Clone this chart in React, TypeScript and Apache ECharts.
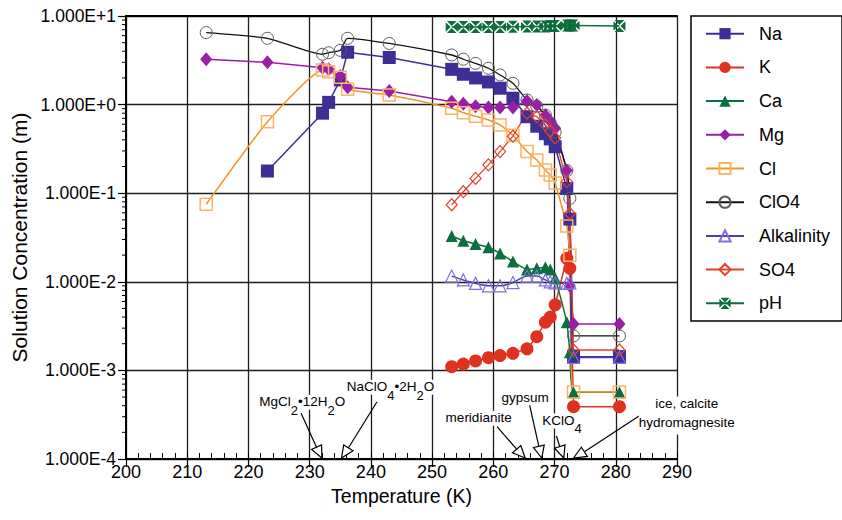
import React, { useEffect, useRef } from "react";
import * as echarts from "echarts";

// ---------- data ----------
const seriesNames = ["Na", "K", "Ca", "Mg", "Cl", "ClO4", "Alkalinity", "SO4", "pH"];

// temperatures (K)
const tempEarly = [213.1, 223.1, 232.1, 233.1, 235.0, 236.2, 243.0];
const tempLate = [253.2, 255.1, 257.1, 259.2, 261.1, 263.2, 265.5, 267.1, 268.5, 269.3, 270.1, 272.0, 272.5, 273.1, 280.6];

// concentrations (m)
const naEarly = [null, 0.178, 0.8, 1.06, 1.9, 3.9, 3.4];
const naLate = [2.5, 2.2, 2.0, 1.8, 1.53, 1.18, 0.73, 0.57, 0.47, 0.41, 0.335, 0.113, 0.051, 0.00143, 0.00143];
const kLate = [0.0011, 0.00118, 0.00128, 0.00139, 0.00147, 0.00156, 0.00175, 0.0024, 0.0035, 0.004, 0.0055, 0.0184, 0.0142, 0.00039, 0.00039];
const caLate = [0.0329, 0.0291, 0.0267, 0.0245, 0.0209, 0.0169, 0.0138, 0.0142, 0.0146, 0.0138, 0.011, 0.0035, 0.0016, 0.000566, 0.000566];
const mgEarly = [3.25, 3.0, 2.6, 2.5, 2.1, 1.57, 1.42];
const mgLate = [1.08, 1.02, 0.96, 0.93, 0.93, 0.93, 1.1, 0.99, 0.76, 0.65, 0.54, 0.18, 0.009, 0.00334, 0.00334];
const clEarly = [0.075, 0.64, 2.45, 2.35, 2.03, 1.49, 1.28];
const clLate = [0.91, 0.81, 0.74, 0.67, 0.59, 0.45, 0.295, 0.237, 0.183, 0.16, 0.13, 0.0426, 0.02, 0.00057, 0.00057];
const clo4Early = [6.5, 5.6, 3.7, 3.85, 4.1, 5.6, 4.9];
const clo4Late = [3.63, 3.25, 2.92, 2.57, 2.16, 1.74, 1.13, 0.96, 0.76, 0.62, 0.49, 0.18, 0.0875, 0.00245, 0.00245];
const alkLate = [0.0116, 0.0105, 0.0096, 0.009, 0.009, 0.0098, 0.0116, 0.0116, 0.0105, 0.01, 0.0097, 0.0096, 0.0097, 0.0014, 0.0014];
const so4Late = [0.074, 0.104, 0.147, 0.209, 0.295, 0.44, 0.8, 0.73, 0.59, 0.5, 0.42, 0.135, 0.059, 0.0017, 0.0017];
const phLate = [7.5, 7.5, 7.5, 7.5, 7.5, 7.55, 7.6, 7.6, 7.6, 7.7, 7.7, 7.8, 7.8, 7.8, 7.7];

// axis ticks
const xMin = 200;
const xMax = 290;
const yMin = 1e-4;
const yMax = 10;
const yDecades = [-4, -3, -2, -1, 0];
const yMinorMultipliers = [2, 3, 4, 5, 6, 7, 8, 9];

// mineral annotations (label centre, arrow start, arrow tip on x axis)
const annotations = [
  { text: "{a|MgCl}{s|2}{a|•12H}{s|2}{a|O}", labelT: 228.8, labelC: 4.36e-4, fromT: 228.6, fromC: 3.28e-4, tipT: 232.0 },
  { text: "{a|NaClO}{s|4}{a|•2H}{s|2}{a|O}", labelT: 243.2, labelC: 6.44e-4, fromT: 241.0, fromC: 4.43e-4, tipT: 235.2 },
  { text: "{a|meridianite}", labelT: 257.6, labelC: 2.88e-4, fromT: 260.6, fromC: 2.32e-4, tipT: 265.2 },
  { text: "{a|gypsum}", labelT: 265.2, labelC: 4.92e-4, fromT: 265.9, fromC: 4.14e-4, tipT: 267.9 },
  { text: "{a|KClO}{s|4}", labelT: 271.2, labelC: 2.69e-4, fromT: 270.3, fromC: 1.82e-4, tipT: 271.5 },
  { text: "{a|ice, calcite}\n{a|hydromagnesite}", labelT: 291.6, labelC: 3.96e-4, fromT: 284.3, fromC: 3.22e-4, tipT: 273.1 },
];

// ---------- helpers ----------
const FONT = "Liberation Sans, Arial, Helvetica, sans-serif";

function pairs(ts: number[], vs: (number | null)[]) {
  const out: number[][] = [];
  ts.forEach((t, i) => {
    const v = vs[i];
    if (v !== null && v !== undefined) out.push([t, v]);
  });
  return out;
}

const PH_SYMBOL = "path://M1,0L9,0L5,4.2Z M1,10L9,10L5,5.8Z M0,1L0,9L4.2,5Z M10,1L10,9L5.8,5Z";

function lineSeries(
  name: string,
  data: number[][],
  lineColor: string,
  symbol: string,
  symbolSize: number | number[],
  fill: string,
  border: string,
  borderWidth: number,
  smooth: number,
  lineWidth = 1.5
) {
  return {
    name,
    type: "line",
    data,
    symbol,
    symbolSize,
    showAllSymbol: true,
    smooth: smooth > 0 ? smooth : false,
    lineStyle: { color: lineColor, width: lineWidth },
    itemStyle: { color: fill, borderColor: border, borderWidth },
    emphasis: { disabled: true },
    z: 3,
  };
}

export default function App() {
  const ref = useRef<HTMLDivElement>(null);

  useEffect(() => {
    const chart = echarts.init(ref.current!, null, { renderer: "svg" });
    const clear = "rgba(255,255,255,0)";

    const yMinorData: number[][] = [];
    yDecades.forEach((e) => yMinorMultipliers.forEach((m) => yMinorData.push([xMin, m * Math.pow(10, e)])));

    const series: any[] = [
      lineSeries("Na", pairs(tempEarly, naEarly).concat(pairs(tempLate, naLate)), "#3d2f96", "rect", 13, "#3d2f96", "#3d2f96", 0, 0),
      lineSeries("K", pairs(tempLate, kLate), "#e0301e", "circle", 13, "#e0301e", "#e0301e", 0, 0),
      lineSeries("Ca", pairs(tempLate, caLate), "#0b6e3f", "triangle", 12, "#0b6e3f", "#0b6e3f", 0, 0.15),
      lineSeries("Mg", pairs(tempEarly, mgEarly).concat(pairs(tempLate, mgLate)), "#9a1ea6", "diamond", [12, 14], "#9a1ea6", "#9a1ea6", 0, 0),
      lineSeries("Cl", pairs(tempEarly, clEarly).concat(pairs(tempLate, clLate)), "#f7941d", "rect", 12, clear, "#f8b468", 1.5, 0.15),
      lineSeries("ClO4", pairs(tempEarly, clo4Early).concat(pairs(tempLate, clo4Late)), "#111111", "circle", 12, clear, "#5a5a5a", 1, 0.2, 1.3),
      lineSeries("Alkalinity", pairs(tempLate, alkLate), "#4a3fb0", "triangle", 12, clear, "#7d70d8", 1.2, 0.25),
      lineSeries("SO4", pairs(tempLate, so4Late), "#e8412a", "diamond", [11, 12], clear, "#e8412a", 1.2, 0, 1.3),
      lineSeries("pH", pairs(tempLate, phLate), "#0c6e3e", PH_SYMBOL, 12, "#0c6e3e", "#0c6e3e", 0, 0),
      {
        name: "yMinorTicks",
        type: "custom",
        data: yMinorData,
        silent: true,
        clip: false,
        z: 4,
        renderItem: (_params: any, api: any) => {
          const p = api.coord([api.value(0), api.value(1)]);
          return {
            type: "line",
            shape: { x1: p[0] - 4, y1: p[1], x2: p[0], y2: p[1] },
            style: { stroke: "#000", lineWidth: 1 },
          };
        },
      },
    ];

    const option: any = {
      animation: false,
      backgroundColor: "#ffffff",
      textStyle: { fontFamily: FONT },
      grid: { left: 126, right: 165, top: 16, bottom: 61, containLabel: false },
      legend: {
        data: seriesNames,
        orient: "vertical",
        left: 691,
        top: 16,
        itemWidth: 38,
        itemHeight: 14,
        itemGap: 15.7,
        padding: [8.7, 12, 8.7, 14],
        borderColor: "#000",
        borderWidth: 1.5,
        backgroundColor: "#fff",
        selectedMode: false,
        textStyle: { fontSize: 18, fontFamily: FONT, color: "#000", padding: [0, 0, 0, 10] },
      },
      xAxis: [
        {
          type: "value",
          min: xMin,
          max: xMax,
          interval: 10,
          position: "bottom",
          axisLine: { show: true, onZero: false, lineStyle: { color: "#000", width: 2 } },
          axisTick: { show: true, inside: false, length: 8, lineStyle: { color: "#000", width: 1.2 } },
          axisLabel: { fontSize: 18, fontFamily: FONT, color: "#000", margin: 4 },
          splitLine: { show: true, lineStyle: { color: "#1e1e1e", width: 1.3 } },
          name: "Temperature (K)",
          nameLocation: "middle",
          nameGap: 27,
          nameTextStyle: { fontSize: 19.5, fontFamily: FONT, color: "#000" },
        },
        {
          type: "value",
          min: xMin,
          max: xMax,
          interval: 2,
          position: "bottom",
          axisLine: { show: false, onZero: false },
          axisTick: { show: true, inside: true, length: 6, lineStyle: { color: "#000", width: 1 } },
          axisLabel: { show: false },
          splitLine: { show: false },
        },
        {
          type: "value",
          min: xMin,
          max: xMax,
          position: "top",
          axisLine: { show: true, onZero: false, lineStyle: { color: "#000", width: 2 } },
          axisTick: { show: false },
          axisLabel: { show: false },
          splitLine: { show: false },
        },
      ],
      yAxis: {
        type: "log",
        logBase: 10,
        min: yMin,
        max: yMax,
        axisLine: { show: true, onZero: false, lineStyle: { color: "#000", width: 2 } },
        axisTick: { show: true, inside: false, length: 8, lineStyle: { color: "#000", width: 1.2 } },
        axisLabel: {
          fontSize: 17.5,
          fontFamily: FONT,
          color: "#000",
          margin: 10,
          formatter: (v: number) => {
            const e = Math.round(Math.log10(v));
            return "1.000E" + (e >= 0 ? "+" : "") + e;
          },
        },
        splitLine: { show: true, lineStyle: { color: "#1e1e1e", width: 1.3 } },
        name: "Solution Concentration (m)",
        nameLocation: "middle",
        nameGap: 93,
        nameTextStyle: { fontSize: 21, fontFamily: FONT, color: "#000" },
      },
      series,
    };

    chart.setOption(option);

    // annotations positioned through the axes' scales
    const toPx = (t: number, c: number) =>
      chart.convertToPixel({ xAxisIndex: 0, yAxisIndex: 0 } as any, [t, c]) as unknown as number[];

    const arrows: any[] = [];
    const labels: any[] = [];
    const headLen = 13;
    const headHalf = 5.5;
    annotations.forEach((a) => {
      const s = toPx(a.fromT, a.fromC);
      const tip = toPx(a.tipT, yMin);
      const dx = tip[0] - s[0];
      const dy = tip[1] - s[1];
      const len = Math.sqrt(dx * dx + dy * dy);
      const ux = dx / len;
      const uy = dy / len;
      const bx = tip[0] - ux * headLen;
      const by = tip[1] - uy * headLen;
      const nx = -uy;
      const ny = ux;
      arrows.push({
        type: "line",
        z: 100,
        shape: { x1: s[0], y1: s[1], x2: bx, y2: by },
        style: { stroke: "#000", lineWidth: 1.2 },
      });
      arrows.push({
        type: "polygon",
        z: 100,
        shape: {
          points: [
            [tip[0], tip[1] - 1],
            [bx + nx * headHalf, by + ny * headHalf],
            [bx - nx * headHalf, by - ny * headHalf],
          ],
        },
        style: { fill: "#fff", stroke: "#000", lineWidth: 1.2 },
      });
      const lp = toPx(a.labelT, a.labelC);
      const multi = a.text.indexOf("\n") >= 0;
      const lh = multi ? 19 : 15;
      labels.push({
        type: "text",
        z: 101,
        x: lp[0],
        y: lp[1] - lh / 2,
        style: {
          text: a.text,
          align: "center",
          verticalAlign: "top",
          backgroundColor: "#fff",
          fill: "#000",
          fontSize: 13.5,
          fontFamily: FONT,
          rich: {
            a: { fontSize: 13.5, fontFamily: FONT, fill: "#000", lineHeight: lh, verticalAlign: "top" },
            s: { fontSize: 13, fontFamily: FONT, fill: "#000", lineHeight: lh, verticalAlign: "top", padding: [9, 0, 0, 0] },
          },
        },
      });
    });

    chart.setOption({ graphic: { elements: arrows.concat(labels) } });

    return () => chart.dispose();
  }, []);

  return (
    <div
      ref={ref}
      style={{ position: "fixed", left: 0, top: 0, width: 842, height: 520, background: "#fff" }}
    />
  );
}
